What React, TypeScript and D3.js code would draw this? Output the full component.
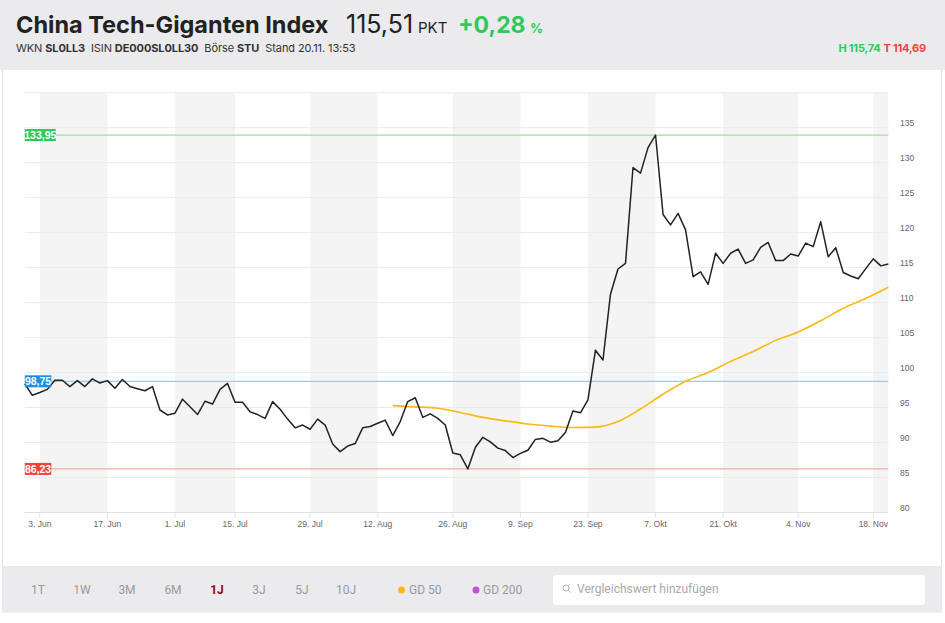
import React from "react";
import * as d3 from "d3";

// ---- data ----
const closeValues: number[] = [
  98.4, 96.75, 97.15, 97.6, 98.9, 98.9, 98.0, 98.85, 98.0, 99.1,
  98.5, 98.85, 97.75, 99.0, 98.0, 97.7, 97.4, 98.0, 94.65, 93.95,
  94.2, 96.2, 95.1, 94.0, 95.9, 95.5, 97.6, 98.45, 95.75, 95.75,
  94.4, 94.0, 93.45, 95.85, 94.75, 93.35, 92.1, 92.5, 91.9, 93.35,
  92.5, 89.8, 88.7, 89.5, 89.85, 92.1, 92.3, 92.75, 93.2, 91.0,
  93.0, 95.85, 96.4, 93.6, 94.1, 93.45, 92.5, 88.5, 88.25, 86.23,
  89.3, 90.75, 90.1, 89.2, 88.85, 87.85, 88.45, 88.9, 90.45, 90.6,
  90.05, 90.25, 91.45, 94.5, 94.25, 96.1, 103.2, 101.8, 111.2, 114.8,
  115.6, 129.3, 128.5, 132.15, 133.95, 122.6, 121.1, 122.75, 120.4, 113.7,
  114.4, 112.6, 117.05, 115.6, 117.05, 117.65, 115.6, 116.1, 117.9, 118.6,
  116.0, 116.0, 116.95, 116.65, 118.5, 118.0, 121.55, 116.55, 117.85, 114.3,
  113.8, 113.4, 114.85, 116.25, 115.25, 115.51,
];

// GD 50 (moving average), read at every third point
const gd50Index: number[] = [49, 52, 55, 58, 61, 64, 67, 70, 73, 76, 79, 82, 85, 88, 91, 94, 97, 100, 103, 106, 109, 112, 115];
const gd50Values: number[] = [95.27, 95.1, 94.9, 94.3, 93.6, 93.1, 92.65, 92.35, 92.15, 92.2, 93.0, 94.8, 96.9, 98.75, 100.0, 101.6, 103.0, 104.6, 105.8, 107.4, 109.2, 110.6, 112.2];

const xTickLabels: string[] = ["3. Jun", "17. Jun", "1. Jul", "15. Jul", "29. Jul", "12. Aug", "26. Aug", "9. Sep", "23. Sep", "7. Okt", "21. Okt", "4. Nov", "18. Nov"];
const xTickIndex: number[] = [2, 11, 20, 28, 38, 47, 57, 66, 75, 84, 93, 103, 113];

const yTicks: number[] = [80, 85, 90, 95, 100, 105, 110, 115, 120, 125, 130, 135];
const yGrid: number[] = [80, 85, 90, 95, 100, 105, 110, 115, 120, 125, 130, 135, 140];

const markerValues: number[] = [133.95, 98.75, 86.23];
const markerLabels: string[] = ["133,95", "98,75", "86,23"];
const markerBoxColors: string[] = ["#2ec95c", "#1e8fe8", "#f2443a"];
const markerLineColors: string[] = ["#98e0a8", "#9ccbf2", "#f7a8a8"];

const periods: string[] = ["1T", "1W", "3M", "6M", "1J", "3J", "5J", "10J"];
const activePeriod = "1J";

const HFONT = "Inter, Roboto, 'Liberation Sans', Arial, sans-serif";
const FONT = "Roboto, 'Liberation Sans', Arial, sans-serif";
const AXFONT = "'Liberation Sans', Arial, sans-serif";

export default function App() {
  const W = 945, H = 623;
  const plotL = 24.8, plotR = 888.3, plotT = 92.7, plotB = 512.5;

  const x = d3.scaleLinear().domain([0, closeValues.length - 1]).range([plotL, plotR]);
  const y = d3.scaleLinear().domain([80, 140]).range([plotB, plotT]);

  const line = d3.line<number>().x((_, i) => x(i)).y((d) => y(d));
  const maLine = d3
    .line<number>()
    .x((_, i) => x(gd50Index[i]))
    .y((d) => y(d))
    .curve(d3.curveMonotoneX);

  // alternating bands between ticks
  const bandEdges = xTickIndex.map((i) => x(i));
  const bands: [number, number][] = [];
  for (let k = 0; k < bandEdges.length; k += 2) {
    const a = bandEdges[k];
    const b = k + 1 < bandEdges.length ? bandEdges[k + 1] : plotR;
    bands.push([a, b]);
  }

  const periodX = [38, 82, 127, 173, 217, 259, 302, 346];

  return (
    <svg width={W} height={H} style={{ position: "absolute", left: 0, top: 0, display: "block" }}>
      <rect x={0} y={0} width={W} height={H} fill="#ffffff" />
      {/* header */}
      <rect x={0} y={0} width={W} height={70} fill="#ebebed" />
      <text x={16} y={33} fontFamily={HFONT} fontWeight={700} fontSize={23.5} fill="#222">
        China Tech-Giganten Index
      </text>
      <text x={346} y={33} fontFamily={HFONT} fontSize={25} fill="#222">115,51</text>
      <text x={418} y={33} fontFamily={HFONT} fontSize={15} fill="#222">PKT</text>
      <text x={458} y={33} fontFamily={HFONT} fontWeight={700} fontSize={23} fill="#2ec95c">+0,28</text>
      <text x={530} y={33} fontFamily={HFONT} fontWeight={700} fontSize={13} fill="#2ec95c">%</text>
      <text x={16} y={52} fontFamily={HFONT} fontSize={11} letterSpacing={-0.1} fill="#333">
        WKN <tspan fontWeight={700}>SL0LL3</tspan>
        <tspan dx={6}>ISIN </tspan>
        <tspan fontWeight={700}>DE000SL0LL30</tspan>
        <tspan dx={6}>Börse </tspan>
        <tspan fontWeight={700}>STU</tspan>
        <tspan dx={6}>Stand 20.11. 13:53</tspan>
      </text>
      <text x={926} y={52} textAnchor="end" fontFamily={HFONT} fontWeight={700} fontSize={11} letterSpacing={-0.2}>
        <tspan fill="#2ec95c">H 115,74</tspan>
        <tspan fill="#f2443a" dx={3}>T 114,69</tspan>
      </text>

      {/* card borders */}
      <line x1={2.5} x2={2.5} y1={70} y2={566} stroke="#e4e4e6" />
      <line x1={941.5} x2={941.5} y1={70} y2={566} stroke="#e4e4e6" />

      {/* bands */}
      {bands.map(([a, b], k) => (
        <rect key={k} x={a} y={plotT} width={b - a} height={plotB - plotT} fill="#f4f4f4" />
      ))}

      {/* horizontal grid */}
      {yGrid.map((v) => (
        <line key={v} x1={plotL} x2={plotR} y1={y(v)} y2={y(v)} stroke="#ebebeb" strokeWidth={1} />
      ))}

      {/* y labels */}
      {yTicks.map((v) => (
        <text key={v} x={900} y={y(v) - 1.5} fontFamily={AXFONT} fontSize={8.5} fill="#666">
          {v}
        </text>
      ))}

      {/* x axis */}
      <line x1={plotL} x2={plotR} y1={plotB} y2={plotB} stroke="#e2e2e2" />
      {xTickIndex.map((i, k) => (
        <g key={k}>
          <line x1={x(i)} x2={x(i)} y1={plotB} y2={plotB + 5} stroke="#e2e2e2" />
          <text x={x(i)} y={527} textAnchor="middle" fontFamily={AXFONT} fontSize={8.5} fill="#666">
            {xTickLabels[k]}
          </text>
        </g>
      ))}

      {/* marker lines */}
      {markerValues.map((v, k) => (
        <line key={k} x1={plotL} x2={plotR} y1={y(v)} y2={y(v)} stroke={markerLineColors[k]} strokeWidth={1.2} />
      ))}

      {/* GD 50 */}
      <path d={maLine(gd50Values) || ""} fill="none" stroke="#fdb813" strokeWidth={1.6} />
      {/* price */}
      <path d={line(closeValues) || ""} fill="none" stroke="#222" strokeWidth={1.5} strokeLinejoin="round" />

      {/* marker boxes */}
      {markerValues.map((v, k) => {
        const w = markerLabels[k].length > 5 ? 31 : 26.5;
        return (
          <g key={k}>
            <rect x={plotL} y={y(v) - 6} width={w} height={12} fill={markerBoxColors[k]} />
            <text x={plotL + w / 2} y={y(v) + 3.8} textAnchor="middle" fontFamily={AXFONT} fontWeight={700} fontSize={10.5} fill="#fff">
              {markerLabels[k]}
            </text>
          </g>
        );
      })}

      {/* bottom bar */}
      <rect x={2} y={566} width={940} height={46.5} fill="#ebebed" />
      {periods.map((p, k) => (
        <text
          key={p}
          x={periodX[k]}
          y={593.5}
          textAnchor="middle"
          fontFamily={FONT}
          fontSize={12}
          fontWeight={p === activePeriod ? 700 : 400}
          fill={p === activePeriod ? "#8a0a23" : "#9a9a9e"}
        >
          {p}
        </text>
      ))}
      <circle cx={401.5} cy={590} r={3.5} fill="#fdb813" />
      <text x={409} y={593.5} fontFamily={FONT} fontSize={12} fill="#9a9a9e">GD 50</text>
      <circle cx={476} cy={590} r={3.5} fill="#b855d0" />
      <text x={483} y={593.5} fontFamily={FONT} fontSize={12} fill="#9a9a9e">GD 200</text>
      <rect x={553} y={575} width={372} height={30} rx={4} fill="#ffffff" />
      <circle cx={566} cy={588} r={3} fill="none" stroke="#b0b0b4" strokeWidth={1} />
      <line x1={568.2} y1={590.2} x2={570.5} y2={592.5} stroke="#b0b0b4" strokeWidth={1} />
      <text x={577} y={593} fontFamily={FONT} fontSize={12} fill="#a8a8ac">Vergleichswert hinzufügen</text>
    </svg>
  );
}
